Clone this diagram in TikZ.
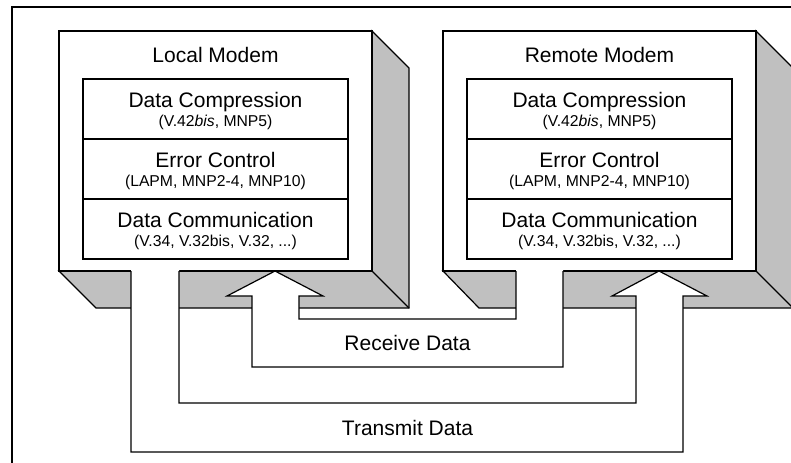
\documentclass[tikz,border=0pt]{standalone}
\usepackage{fontspec}
\setmainfont{Liberation Sans}
\definecolor{shadowgray}{RGB}{192,192,192}
\begin{document}
\begin{tikzpicture}[x=0.75pt,y=-0.75pt,line width=0.9pt,line join=miter]
\tikzset{
  shadebox/.style={fill=shadowgray,draw=black},
  face/.style={fill=white,draw=black,inner sep=0pt,minimum width=234.75pt,minimum height=180pt},
  layer/.style={draw=black,fill=white,minimum width=198.75pt,minimum height=45pt,inner sep=0pt},
  bigtxt/.style={font=\fontsize{15.75}{18}\selectfont,anchor=base,inner sep=0pt},
  smalltxt/.style={font=\fontsize{11.8}{14}\selectfont,anchor=base,inner sep=0pt},
  pipefill/.style={fill=white,draw=none},
}
\useasboundingbox (0,0) rectangle (791,462);
\clip (0,0) rectangle (791,462);
% outer frame
\draw (12,470) -- (12,7) -- (800,7);
% local modem shadow and face
\draw[shadebox] (372,31) -- (409,68) -- (409,308) -- (96,308) -- (59,271) -- (372,271) -- cycle;
\draw (372,271) -- (409,308);
\node[face] (lm) at (215.5,151) {};
% remote modem shadow and face
\draw[shadebox] (756,31) -- (793,68) -- (793,308) -- (479,308) -- (443,271) -- (756,271) -- cycle;
\draw (756,271) -- (793,308);
\node[face] (rm) at (599.5,151) {};
% transmit pipe
\coordinate (txA) at (131,271);
\coordinate (txB) at (179,271);
\path[pipefill] (131,270) -- (131,452) -- (683,452) -- (683,296) -- (707,296) -- (659,271) -- (612,296) -- (636,296) -- (636,403) -- (179,403) -- (179,270) -- cycle;
\draw (txA) -- (131,452) -- (683,452) -- (683,296) -- (707,296) -- (659,271) -- (612,296) -- (636,296) -- (636,403) -- (179,403) -- (txB);
% receive pipe
\coordinate (rxA) at (563,271);
\coordinate (rxB) at (516,271);
\path[pipefill] (563,270) -- (563,367) -- (252,367) -- (252,296) -- (227,296) -- (275,271) -- (323,296) -- (299,296) -- (299,319) -- (516,319) -- (516,270) -- cycle;
\draw (rxA) -- (563,367) -- (252,367) -- (252,296) -- (227,296) -- (275,271) -- (323,296) -- (299,296) -- (299,319) -- (516,319) -- (rxB);
% labels of pipes
\node[font=\fontsize{15.75}{18}\selectfont,inner sep=0pt] (rxl) at (407.5,343) {Receive Data};
\node[font=\fontsize{15.75}{18}\selectfont,inner sep=0pt] (txl) at (407.5,427.5) {Transmit Data};
% layers
\foreach \m/\x/\t in {l/215.5/Local Modem, r/599.5/Remote Modem}{
  \node[bigtxt] (\m title) at (\x,62) {\t};
  \node[layer] (\m dc) at (\x,109) {};
  \node[layer] (\m ec) at (\x,169) {};
  \node[layer] (\m cm) at (\x,229) {};
  \node[bigtxt] at (\x,107) {Data Compression};
  \node[smalltxt] at (\x,126) {(V.42\textit{bis}, MNP5)};
  \node[bigtxt] at (\x,167) {Error Control};
  \node[smalltxt] at (\x,186.5) {(LAPM, MNP2-4, MNP10)};
  \node[bigtxt] at (\x,227) {Data Communication};
  \node[smalltxt] at (\x,246.5) {(V.34, V.32bis, V.32, ...)};
}
\end{tikzpicture}
\end{document}
